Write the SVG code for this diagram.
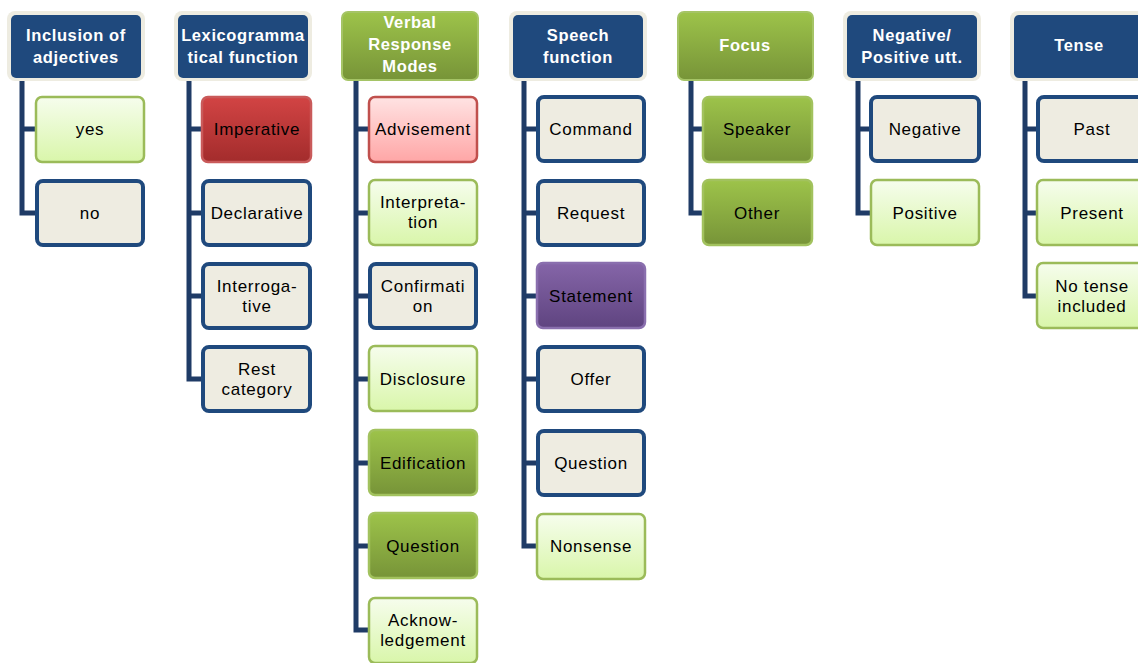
<svg xmlns="http://www.w3.org/2000/svg" width="1138" height="663" viewBox="0 0 1138 663">
<defs>
<linearGradient id="gLight" x1="0" y1="0" x2="0" y2="1"><stop offset="0" stop-color="#f6fded"/><stop offset="1" stop-color="#d9f6aa"/></linearGradient>
<linearGradient id="gGreen" x1="0" y1="0" x2="0" y2="1"><stop offset="0" stop-color="#9dc34a"/><stop offset="1" stop-color="#779438"/></linearGradient>
<linearGradient id="gRed" x1="0" y1="0" x2="0" y2="1"><stop offset="0" stop-color="#d24444"/><stop offset="1" stop-color="#a32c2c"/></linearGradient>
<linearGradient id="gPink" x1="0" y1="0" x2="0" y2="1"><stop offset="0" stop-color="#ffe3e3"/><stop offset="1" stop-color="#ffa6a6"/></linearGradient>
<linearGradient id="gPurple" x1="0" y1="0" x2="0" y2="1"><stop offset="0" stop-color="#8565a8"/><stop offset="1" stop-color="#5f4480"/></linearGradient>
</defs>
<style>
text{font-family:"Liberation Sans",Arial,sans-serif;font-size:16.5px;text-anchor:middle;letter-spacing:0.6px}
.ht{fill:#ffffff;font-weight:bold}
.ct{fill:#000000;font-size:17px;letter-spacing:0.7px}
.hb{fill:#eeece1}
.hi{fill:#1f497d}
.hg{fill:url(#gGreen);stroke:#a5c466;stroke-width:2}
.ol{fill:#eeece1;stroke:#1f497d;stroke-width:4}
.lg{fill:url(#gLight);stroke:#9bbb59;stroke-width:2.5}
.dg{fill:url(#gGreen);stroke:#a2c25e;stroke-width:2.5}
.rd{fill:url(#gRed);stroke:#c95a5a;stroke-width:2.5}
.pk{fill:url(#gPink);stroke:#c0504d;stroke-width:2.5}
.pu{fill:url(#gPurple);stroke:#8a6fae;stroke-width:2.5}
.cn{fill:none;stroke:#1f3b66;stroke-width:5}
</style>

<g id="connectors">
<path class="cn" d="M22,81 V213 H35 M22,129 H35"/>
<path class="cn" d="M189,81 V379 H202 M189,129 H202 M189,213 H202 M189,296 H202"/>
<path class="cn" d="M356,81 V630 H369 M356,129 H369 M356,213 H369 M356,296 H369 M356,379 H369 M356,463 H369 M356,546 H369"/>
<path class="cn" d="M524,81 V546 H537 M524,129 H537 M524,213 H537 M524,296 H537 M524,379 H537 M524,463 H537"/>
<path class="cn" d="M691,81 V213 H704 M691,129 H704"/>
<path class="cn" d="M858,81 V213 H871 M858,129 H871"/>
<path class="cn" d="M1025,81 V296 H1038 M1025,129 H1038 M1025,213 H1038"/>
</g>

<!-- Column 1 -->
<g id="h1"><rect class="hb" x="7" y="11" width="138" height="70" rx="8"/><rect class="hi" x="11" y="15" width="130" height="63" rx="5"/>
<text class="ht" x="76" y="41">Inclusion of</text><text class="ht" x="76" y="63">adjectives</text></g>
<g id="c1a"><rect class="lg" x="36" y="97" width="108" height="65" rx="6"/><text class="ct" x="90" y="135">yes</text></g>
<g id="c1b"><rect class="ol" x="37" y="181" width="106" height="64" rx="6"/><text class="ct" x="90" y="219">no</text></g>

<!-- Column 2 -->
<g id="h2"><rect class="hb" x="174" y="11" width="138" height="70" rx="8"/><rect class="hi" x="178" y="15" width="130" height="63" rx="5"/>
<text class="ht" x="243" y="41">Lexicogramma</text><text class="ht" x="243" y="63">tical function</text></g>
<g id="c2a"><rect class="rd" x="202" y="97" width="109" height="65" rx="6"/><text class="ct" x="257" y="135">Imperative</text></g>
<g id="c2b"><rect class="ol" x="203" y="181" width="107" height="64" rx="6"/><text class="ct" x="257" y="219">Declarative</text></g>
<g id="c2c"><rect class="ol" x="203" y="264" width="107" height="64" rx="6"/><text class="ct" x="257" y="292">Interroga-</text><text class="ct" x="257" y="312">tive</text></g>
<g id="c2d"><rect class="ol" x="203" y="347" width="107" height="64" rx="6"/><text class="ct" x="257" y="375">Rest</text><text class="ct" x="257" y="395">category</text></g>

<!-- Column 3 -->
<g id="h3"><rect class="hg" x="342" y="12" width="136" height="68" rx="6"/>
<text class="ht" x="410" y="28">Verbal</text><text class="ht" x="410" y="50">Response</text><text class="ht" x="410" y="72">Modes</text></g>
<g id="c3a"><rect class="pk" x="369" y="97" width="108" height="65" rx="6"/><text class="ct" x="423" y="135">Advisement</text></g>
<g id="c3b"><rect class="lg" x="369" y="180" width="108" height="65" rx="6"/><text class="ct" x="423" y="208">Interpreta-</text><text class="ct" x="423" y="228">tion</text></g>
<g id="c3c"><rect class="ol" x="370" y="264" width="106" height="64" rx="6"/><text class="ct" x="423" y="292">Confirmati</text><text class="ct" x="423" y="312">on</text></g>
<g id="c3d"><rect class="lg" x="369" y="346" width="108" height="65" rx="6"/><text class="ct" x="423" y="385">Disclosure</text></g>
<g id="c3e"><rect class="dg" x="369" y="430" width="108" height="65" rx="6"/><text class="ct" x="423" y="469">Edification</text></g>
<g id="c3f"><rect class="dg" x="369" y="513" width="108" height="65" rx="6"/><text class="ct" x="423" y="552">Question</text></g>
<g id="c3g"><rect class="lg" x="369" y="598" width="108" height="65" rx="6"/><text class="ct" x="423" y="626">Acknow-</text><text class="ct" x="423" y="646">ledgement</text></g>

<!-- Column 4 -->
<g id="h4"><rect class="hb" x="509" y="11" width="138" height="70" rx="8"/><rect class="hi" x="513" y="15" width="130" height="63" rx="5"/>
<text class="ht" x="578" y="41">Speech</text><text class="ht" x="578" y="63">function</text></g>
<g id="c4a"><rect class="ol" x="538" y="97" width="106" height="64" rx="6"/><text class="ct" x="591" y="135">Command</text></g>
<g id="c4b"><rect class="ol" x="538" y="181" width="106" height="64" rx="6"/><text class="ct" x="591" y="219">Request</text></g>
<g id="c4c"><rect class="pu" x="537" y="263" width="108" height="65" rx="6"/><text class="ct" x="591" y="302">Statement</text></g>
<g id="c4d"><rect class="ol" x="538" y="347" width="106" height="64" rx="6"/><text class="ct" x="591" y="385">Offer</text></g>
<g id="c4e"><rect class="ol" x="538" y="431" width="106" height="64" rx="6"/><text class="ct" x="591" y="469">Question</text></g>
<g id="c4f"><rect class="lg" x="537" y="514" width="108" height="65" rx="6"/><text class="ct" x="591" y="552">Nonsense</text></g>

<!-- Column 5 -->
<g id="h5"><rect class="hg" x="678" y="12" width="135" height="68" rx="6"/>
<text class="ht" x="745" y="51">Focus</text></g>
<g id="c5a"><rect class="dg" x="703" y="97" width="109" height="65" rx="6"/><text class="ct" x="757" y="135">Speaker</text></g>
<g id="c5b"><rect class="dg" x="703" y="180" width="109" height="65" rx="6"/><text class="ct" x="757" y="219">Other</text></g>

<!-- Column 6 -->
<g id="h6"><rect class="hb" x="843" y="11" width="138" height="70" rx="8"/><rect class="hi" x="847" y="15" width="130" height="63" rx="5"/>
<text class="ht" x="912" y="41">Negative/</text><text class="ht" x="912" y="63">Positive utt.</text></g>
<g id="c6a"><rect class="ol" x="871" y="97" width="108" height="64" rx="6"/><text class="ct" x="925" y="135">Negative</text></g>
<g id="c6b"><rect class="lg" x="871" y="180" width="108" height="65" rx="6"/><text class="ct" x="925" y="219">Positive</text></g>

<!-- Column 7 -->
<g id="h7"><rect class="hb" x="1010" y="11" width="138" height="70" rx="8"/><rect class="hi" x="1014" y="15" width="130" height="63" rx="5"/>
<text class="ht" x="1079" y="51">Tense</text></g>
<g id="c7a"><rect class="ol" x="1038" y="97" width="108" height="64" rx="6"/><text class="ct" x="1092" y="135">Past</text></g>
<g id="c7b"><rect class="lg" x="1037" y="180" width="110" height="65" rx="6"/><text class="ct" x="1092" y="219">Present</text></g>
<g id="c7c"><rect class="lg" x="1037" y="263" width="110" height="65" rx="6"/><text class="ct" x="1092" y="292">No tense</text><text class="ct" x="1092" y="312">included</text></g>
</svg>
